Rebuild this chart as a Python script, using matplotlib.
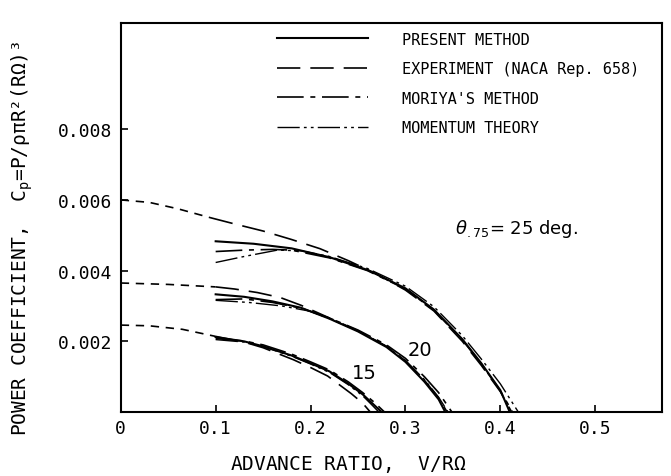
import numpy as np
import matplotlib
matplotlib.use("Agg")
import matplotlib.pyplot as plt

plt.rcParams['mathtext.default'] = 'regular'

# theta_.75 = 25 deg
x25_present = [0.10, 0.14, 0.18, 0.22, 0.26, 0.30, 0.33, 0.36, 0.38, 0.40, 0.410]
y25_present = [4.83, 4.76, 4.63, 4.38, 4.02, 3.50, 2.90, 2.06, 1.38, 0.62, 0.0]
x25_moriya = [0.10, 0.13, 0.16, 0.18, 0.22, 0.26, 0.30, 0.33, 0.36, 0.38, 0.40, 0.413]
y25_moriya = [4.54, 4.58, 4.60, 4.58, 4.36, 4.00, 3.48, 2.88, 2.04, 1.36, 0.60, 0.0]
x25_momentum = [0.10, 0.13, 0.165, 0.19, 0.22, 0.26, 0.30, 0.33, 0.36, 0.38, 0.40, 0.419]
y25_momentum = [4.23, 4.40, 4.58, 4.56, 4.40, 4.06, 3.56, 2.98, 2.16, 1.50, 0.80, 0.0]
x25_exp = [0.0, 0.03, 0.06, 0.094, 0.12, 0.15, 0.18, 0.21, 0.24, 0.27, 0.30, 0.33, 0.36, 0.38, 0.40, 0.412]
y25_exp = [6.00, 5.93, 5.75, 5.50, 5.32, 5.12, 4.88, 4.62, 4.28, 3.90, 3.45, 2.86, 2.00, 1.32, 0.58, 0.0]

# theta_.75 = 20 deg
x20_present = [0.10, 0.13, 0.16, 0.19, 0.22, 0.25, 0.28, 0.30, 0.32, 0.335, 0.342]
y20_present = [3.33, 3.26, 3.13, 2.95, 2.64, 2.28, 1.84, 1.42, 0.86, 0.36, 0.0]
x20_moriya = [0.10, 0.13, 0.16, 0.19, 0.22, 0.25, 0.28, 0.30, 0.32, 0.335, 0.349]
y20_moriya = [3.18, 3.20, 3.10, 2.94, 2.66, 2.32, 1.90, 1.52, 1.00, 0.55, 0.0]
x20_momentum = [0.10, 0.135, 0.17, 0.20, 0.22, 0.25, 0.28, 0.30, 0.32, 0.335, 0.345]
y20_momentum = [3.16, 3.10, 3.00, 2.85, 2.64, 2.30, 1.86, 1.46, 0.92, 0.42, 0.0]
x20_exp = [0.0, 0.05, 0.10, 0.12, 0.144, 0.168, 0.19, 0.22, 0.25, 0.28, 0.30, 0.32, 0.335, 0.344]
y20_exp = [3.65, 3.61, 3.54, 3.48, 3.38, 3.24, 3.02, 2.66, 2.30, 1.86, 1.45, 0.90, 0.40, 0.0]

# theta_.75 = 15 deg
x15_present = [0.10, 0.13, 0.15, 0.18, 0.20, 0.22, 0.24, 0.255, 0.265, 0.275]
y15_present = [2.12, 2.00, 1.86, 1.60, 1.38, 1.15, 0.80, 0.50, 0.25, 0.0]
x15_moriya = [0.10, 0.13, 0.15, 0.18, 0.20, 0.22, 0.24, 0.255, 0.267, 0.278]
y15_moriya = [2.08, 2.01, 1.90, 1.64, 1.42, 1.19, 0.85, 0.55, 0.28, 0.0]
x15_momentum = [0.10, 0.13, 0.15, 0.18, 0.20, 0.22, 0.24, 0.255, 0.264, 0.272]
y15_momentum = [2.05, 1.98, 1.85, 1.58, 1.36, 1.12, 0.77, 0.46, 0.22, 0.0]
x15_exp = [0.0, 0.03, 0.065, 0.10, 0.13, 0.15, 0.182, 0.20, 0.218, 0.243, 0.255, 0.263]
y15_exp = [2.46, 2.44, 2.34, 2.14, 1.98, 1.82, 1.48, 1.26, 1.02, 0.52, 0.25, 0.0]

labels = ["PRESENT METHOD", "EXPERIMENT (NACA Rep. 658)",
          "MORIYA'S METHOD", "MOMENTUM THEORY"]

x_ticks = [0, 0.1, 0.2, 0.3, 0.4, 0.5]
x_ticklabels = ["0", "0.1", "0.2", "0.3", "0.4", "0.5"]
y_ticks = [0.002, 0.004, 0.006, 0.008]
y_ticklabels = ["0.002", "0.004", "0.006", "0.008"]

mono = "DejaVu Sans Mono"
ls_exp = (0, (14, 6))
ls_extrap = (0, (5, 4))
ls_moriya = (0, (16, 4, 3, 4))
ls_momentum = (0, (16, 3, 2, 3, 2, 3))

fig = plt.figure(figsize=(6.71, 4.77), dpi=100)
ax = fig.add_axes([0.180, 0.134, 0.806, 0.8155])

groups = [
    (x25_present, y25_present, x25_moriya, y25_moriya, x25_momentum, y25_momentum, x25_exp, y25_exp),
    (x20_present, y20_present, x20_moriya, y20_moriya, x20_momentum, y20_momentum, x20_exp, y20_exp),
    (x15_present, y15_present, x15_moriya, y15_moriya, x15_momentum, y15_momentum, x15_exp, y15_exp),
]

handles = None
for xp, yp, xm, ym, xt, yt, xe, ye in groups:
    xe = np.array(xe)
    ye = np.array(ye) * 1e-3
    h1, = ax.plot(xp, np.array(yp) * 1e-3, color="black", lw=1.5)
    # extrapolated part of the experiment curve (short dashes)
    left = xe <= 0.1
    ax.plot(xe[left], ye[left], color="black", lw=1.2, linestyle=ls_extrap)
    right = xe >= 0.094
    h2, = ax.plot(xe[right], ye[right], color="black", lw=1.2, linestyle=ls_exp)
    h3, = ax.plot(xm, np.array(ym) * 1e-3, color="black", lw=1.2, linestyle=ls_moriya)
    h4, = ax.plot(xt, np.array(yt) * 1e-3, color="black", lw=1.0, linestyle=ls_momentum)
    if handles is None:
        handles = [h1, h2, h3, h4]

ax.legend(handles, labels, loc="upper left", bbox_to_anchor=(0.288, 0.978),
          frameon=False, borderaxespad=0, borderpad=0, handlelength=6.0,
          handletextpad=2.2, labelspacing=0.95,
          prop={"family": mono, "size": 11})

ax.text(0.352, 0.0052, r"$\mathit{\theta}_{.75}$= 25 deg.", fontsize=13, ha="left", va="center")
ax.text(0.315, 0.00178, "20", fontsize=14, ha="center", va="center")
ax.text(0.257, 0.00112, "15", fontsize=14, ha="center", va="center")

ax.set_xlim(0, 0.57)
ax.set_ylim(0, 0.011)
ax.set_xticks(x_ticks)
ax.set_xticklabels(x_ticklabels, family=mono, fontsize=13)
ax.set_yticks(y_ticks)
ax.set_yticklabels(y_ticklabels, family=mono, fontsize=13)
ax.tick_params(direction="in", length=5, width=1.2)
ax.tick_params(axis="x", pad=5)
ax.tick_params(axis="y", pad=6)
for sp in ax.spines.values():
    sp.set_linewidth(1.5)

ax.set_xlabel(r"ADVANCE RATIO,  V/R$\Omega$", family=mono, fontsize=14)
ax.xaxis.set_label_coords(0.421, -0.105)
ax.set_ylabel("POWER COEFFICIENT,  $C_p$=P/ρπR²(RΩ)³", family=mono, fontsize=14)
ax.yaxis.set_label_coords(-0.158, 0.45)

fig.savefig("out.png", dpi=100)
